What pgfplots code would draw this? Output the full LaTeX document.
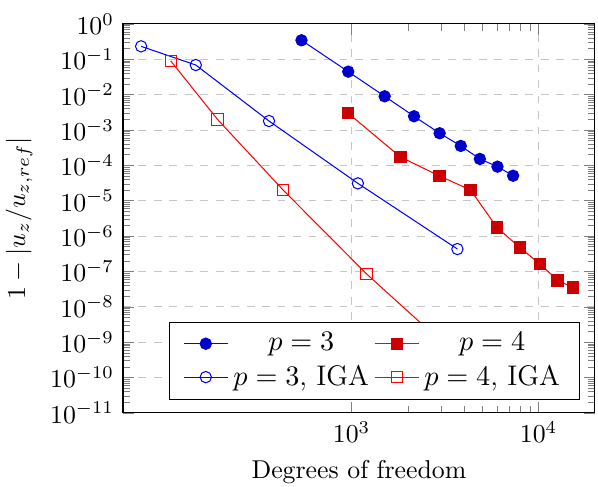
\documentclass[border=0pt]{standalone}
\usepackage{pgfplots}
\pgfplotsset{compat=1.18}

\definecolor{fillblue}{RGB}{0,0,204}
\definecolor{fillred}{RGB}{204,0,0}

\begin{document}
\begin{tikzpicture}
\begin{loglogaxis}[
  name=conv,
  scale only axis,
  width=183pt, height=150.8pt,
  xmin=60, xmax=2e4,
  ymin=1e-11, ymax=1,
  xtick={1e3,1e4},
  ytick={1e-11,1e-10,1e-9,1e-8,1e-7,1e-6,1e-5,1e-4,1e-3,1e-2,1e-1,1},
  grid=major,
  major grid style={dashed, gray!45},
  xlabel={Degrees of freedom},
  ylabel={$1-\left|u_z/u_{z,ref}\right|$},
  legend columns=2,
  legend cell align=center,
  legend style={at={(0.968,0.033)}, anchor=south east, fill=white, draw=black,
    font=\fontsize{11}{13.6}\selectfont, inner xsep=5.5pt},
  every axis plot/.append style={mark size=2.2pt, line width=0.4pt},
]
% p = 3
\addplot[blue, mark=*, mark options={fill=fillblue, draw=fillblue}] coordinates {
  (540, 0.346) (960, 0.0448) (1503, 0.0090) (2158, 0.00245) (2957, 8.1e-4)
  (3837, 3.55e-4) (4852, 1.52e-4) (6027, 9.2e-5) (7306, 5.1e-5)
};
\addlegendentry{$p=3$}
% p = 4
\addplot[red, mark=square*, mark options={fill=fillred, draw=fillred}] coordinates {
  (960, 0.00298) (1824, 1.73e-4) (2957, 5.0e-5) (4323, 2.02e-5) (6000, 1.74e-6)
  (7943, 4.7e-7) (10160, 1.63e-7) (12640, 5.6e-8) (15310, 3.5e-8)
};
\addlegendentry{$p=4$}
% p = 3, IGA
\addplot[blue, mark=o, mark options={fill=white}] coordinates {
  (75, 0.233) (147, 0.069) (362, 1.8e-3) (1081, 3.1e-5) (3681, 4.3e-7)
};
\addlegendentry{$p=3$, IGA}
% p = 4, IGA
\addplot[red, mark=square, mark options={fill=white}] coordinates {
  (108, 0.09) (192, 2.0e-3) (431, 2.0e-5) (1203, 8.5e-8) (3500, 5.1e-10)
};
\addlegendentry{$p=4$, IGA}
\end{loglogaxis}
% frame of the figure around the axis
\pgfresetboundingbox
\useasboundingbox ([xshift=-47.7pt, yshift=-28.7pt]conv.south west)
  rectangle ([xshift=1.2pt, yshift=9.3pt]conv.north east);
\end{tikzpicture}
\end{document}
